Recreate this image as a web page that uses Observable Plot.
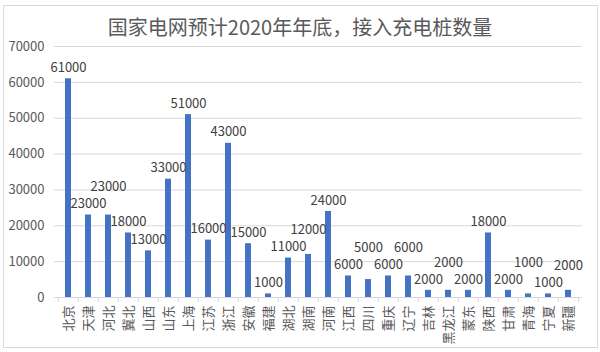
<!DOCTYPE html>
<html><head><meta charset="utf-8">
<script src="https://cdn.jsdelivr.net/npm/d3@7"></script>
<script src="https://cdn.jsdelivr.net/npm/@observablehq/plot@0.6"></script>
<style>
body{margin:0;background:#fff;font-family:"Noto Sans CJK SC","Noto Sans",sans-serif;}
#wrap{position:relative;width:600px;height:352px;overflow:hidden;}
#frame{position:absolute;left:3px;top:5px;width:595px;height:343px;border:1px solid #d9d9d9;box-sizing:border-box;}
#title{position:absolute;left:0;top:12px;width:600px;text-align:center;font-size:20px;color:#595959;font-family:"Noto Sans CJK SC",sans-serif;}
#chart{position:absolute;left:0;top:0;}
</style></head>
<body>
<div id="wrap"><div id="frame"></div><div id="title">国家电网预计2020年年底，接入充电桩数量</div><div id="chart"></div></div>
<script>
const provinces = ["北京","天津","河北","冀北","山西","山东","上海","江苏","浙江","安徽","福建","湖北","湖南","河南","江西","四川","重庆","辽宁","吉林","黑龙江","蒙东","陕西","甘肃","青海","宁夏","新疆"];
const counts = [61000,23000,23000,18000,13000,33000,51000,16000,43000,15000,1000,11000,12000,24000,6000,5000,6000,6000,2000,2000,2000,18000,2000,1000,1000,2000];
const yTicks = [0,10000,20000,30000,40000,50000,60000,70000];

const W = 600, H = 352, ML = 54, MR = 18, MT = 46, MB = 55;
const step = (W - ML - MR) / provinces.length;
// pixel mapping identical to the plot's y scale, used only to stagger overlapping labels
const yPix = d3.scaleLinear([0, 70000], [H - MB, MT]);
const data = [];
let prevY = null;
provinces.forEach((p, i) => {
  const v = counts[i];
  let ly = yPix(v) - 11;
  if (prevY !== null && Math.abs(ly - prevY) < 17) ly = prevY - 17;
  data.push({p, v, dy: ly - yPix(v)});
  prevY = ly;
});

const plot = Plot.plot({
  width: W, height: H,
  marginTop: MT, marginBottom: MB, marginLeft: ML, marginRight: MR,
  style: {fontFamily: '"Noto Sans CJK SC", sans-serif', fontSize: "13px", color: "#595959", background: "transparent"},
  x: {domain: provinces, paddingInner: 0.7, paddingOuter: 0.35, label: null, tickRotate: -90, tickSize: 0, tickPadding: 8},
  y: {domain: [0,70000], ticks: yTicks, label: null, tickSize: 0, tickPadding: 10, tickFormat: d=>String(d), grid: false},
  marks: [
    Plot.gridY(yTicks.filter(d=>d>0), {stroke: "#d9d9d9", strokeOpacity: 1}),
    Plot.ruleY([0], {stroke: "#d9d9d9"}),
    Plot.ruleX(provinces, {x: d=>d, dx: -step/2, y1: 0, y2: 0, insetBottom: -5, stroke: "#d9d9d9"}),
    Plot.ruleX([provinces[provinces.length-1]], {x: d=>d, dx: step/2, y1: 0, y2: 0, insetBottom: -5, stroke: "#d9d9d9"}),
    Plot.barY(data, {x: "p", y: "v", fill: "#4472C4"}),
    ...data.map(d => Plot.text([d], {x: "p", y: "v", text: d=>String(d.v), dy: d.dy, fill: "#404040", fontSize: 13}))
  ]
});
document.getElementById("chart").appendChild(plot);
</script>
</body></html>
